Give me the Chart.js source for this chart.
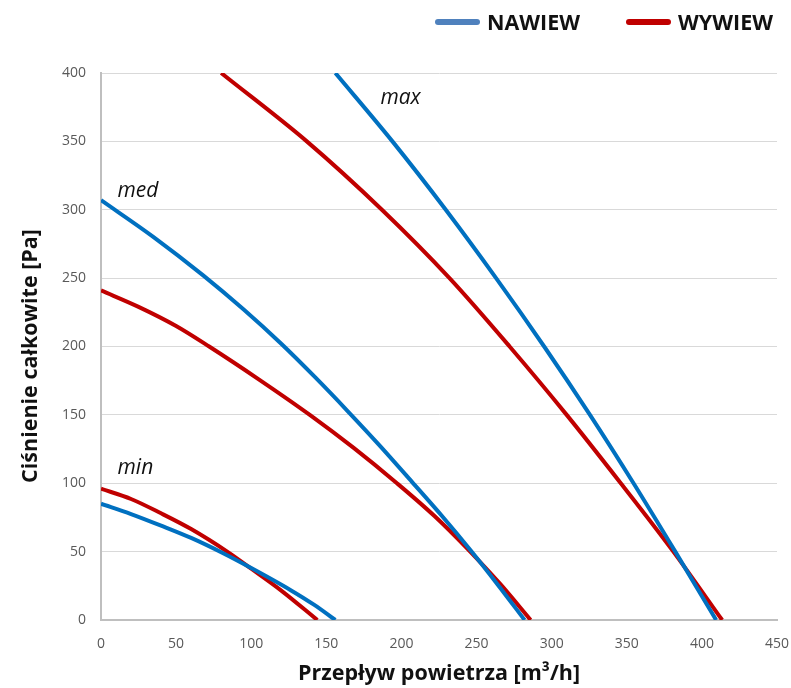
<!DOCTYPE html>
<html lang="pl">
<head>
<meta charset="UTF-8">
<title>Charakterystyka wentylatora</title>
<script src="https://cdn.jsdelivr.net/npm/chart.js"></script>
<style>
    body { margin: 0; background: #fff; }
    #wrap { position: relative; width: 791px; height: 688px; }
    #legend { position: absolute; top: 7px; left: 435px; display: flex; align-items: center;
              font: bold 21.5px 'Open Sans', sans-serif; color: #111; }
    .item { display: flex; align-items: center; margin-right: 46px; }
    .swatch { width: 45px; height: 6px; border-radius: 3px; margin-right: 7px; }
</style>
</head>
<body>
<div id="wrap">
    <canvas id="fanChart" width="791" height="688"></canvas>
    <div id="legend"></div>
</div>

<script>
    // series names and speed steps
    const seriesNames = ['NAWIEW', 'WYWIEW'];
    const speedNames = ['min', 'med', 'max'];

    // NAWIEW curves: flow [m3/h] / total pressure [Pa]
    const nawiewMinFlow = [0, 20, 40, 60, 81, 100, 126, 142, 156];
    const nawiewMinPa   = [85, 77.5, 69, 60, 49, 38, 22, 11, 0];
    const nawiewMedFlow = [0, 35, 68, 95, 120, 143, 164, 186, 207, 227, 246, 264, 282];
    const nawiewMedPa   = [307, 280, 252, 227, 202, 177, 153, 127, 101, 76, 51, 26, 0];
    const nawiewMaxFlow = [156, 194, 229.5, 263, 295, 325.5, 354.5, 382.3, 409.5];
    const nawiewMaxPa   = [400, 350, 300, 250, 200, 150, 100, 50, 0];

    // WYWIEW curves
    const wywiewMinFlow = [0, 20, 40, 60, 84, 100, 120, 144];
    const wywiewMinPa   = [96, 88.5, 78, 66.5, 50, 37.5, 21.5, 0];
    const wywiewMedFlow = [0, 25, 50, 72, 105, 139, 168, 197, 222, 244, 266, 286];
    const wywiewMedPa   = [241, 229, 215, 200, 176, 150, 126, 100, 76, 52, 26, 0];
    const wywiewMaxFlow = [80, 137, 187, 232, 272, 310, 346, 381, 413.5];
    const wywiewMaxPa   = [400, 350, 300, 250, 200, 150, 100, 50, 0];

    // axis ticks
    const flowTicks = [0, 50, 100, 150, 200, 250, 300, 350, 400, 450];
    const pressureTicks = [0, 50, 100, 150, 200, 250, 300, 350, 400];

    const lineColors = ['#0070c0', '#c00000'];
    const legendColors = ['#4f81bd', '#c00000'];

    function toPoints(xs, ys) {
        return xs.map((x, i) => ({ x: x, y: ys[i] }));
    }

    const curves = [
        [toPoints(nawiewMinFlow, nawiewMinPa), toPoints(nawiewMedFlow, nawiewMedPa), toPoints(nawiewMaxFlow, nawiewMaxPa)],
        [toPoints(wywiewMinFlow, wywiewMinPa), toPoints(wywiewMedFlow, wywiewMedPa), toPoints(wywiewMaxFlow, wywiewMaxPa)]
    ];

    const datasets = [];
    curves.forEach((set, s) => {
        set.forEach((pts, k) => {
            datasets.push({
                label: seriesNames[s] + ' ' + speedNames[k],
                data: pts,
                showLine: true,
                borderColor: lineColors[s],
                backgroundColor: lineColors[s],
                borderWidth: 4,
                pointRadius: 0,
                cubicInterpolationMode: 'monotone'
            });
        });
    });

    // html legend, one entry per series
    const legendEl = document.getElementById('legend');
    seriesNames.forEach((name, i) => {
        const item = document.createElement('div');
        item.className = 'item';
        item.innerHTML = '<span class="swatch" style="background:' + legendColors[i] + '"></span><span>' + name + '</span>';
        legendEl.appendChild(item);
    });

    // italic speed labels (min / med / max) placed in data coordinates
    const speedLabelPlugin = {
        id: 'speedLabels',
        afterDatasetsDraw(chart) {
            const { ctx, scales } = chart;
            const anchors = { max: [186, 382], med: [11, 314], min: [11, 111] };
            ctx.save();
            ctx.font = 'italic 21px "Open Sans", sans-serif';
            ctx.fillStyle = '#111';
            ctx.textAlign = 'left';
            ctx.textBaseline = 'middle';
            speedNames.forEach(name => {
                const a = anchors[name];
                ctx.fillText(name, scales.x.getPixelForValue(a[0]), scales.y.getPixelForValue(a[1]));
            });
            ctx.restore();
        }
    };

    // y axis title, drawn a bit below the plot centre like in the original
    const yTitlePlugin = {
        id: 'yTitle',
        afterDraw(chart) {
            const ctx = chart.ctx;
            ctx.save();
            ctx.translate(31, 356);
            ctx.rotate(-Math.PI / 2);
            ctx.font = 'bold 21.5px "Open Sans", sans-serif';
            ctx.fillStyle = '#111';
            ctx.textAlign = 'center';
            ctx.textBaseline = 'middle';
            ctx.fillText('Ciśnienie całkowite [Pa]', 0, 0);
            ctx.restore();
        }
    };

    const ctx = document.getElementById('fanChart').getContext('2d');
    new Chart(ctx, {
        type: 'scatter',
        data: { datasets: datasets },
        options: {
            responsive: false,
            animation: false,
            layout: { padding: { top: 73, right: 14, left: 0, bottom: 0 } },
            plugins: {
                legend: { display: false },
                tooltip: { enabled: false }
            },
            scales: {
                x: {
                    type: 'linear',
                    min: flowTicks[0],
                    max: flowTicks[flowTicks.length - 1],
                    afterBuildTicks: scale => { scale.ticks = flowTicks.map(v => ({ value: v })); },
                    afterFit: scale => {
                        scale.height = 68;
                        // let the last tick label hang over the right margin
                        scale.paddingLeft = 0;
                        scale.paddingRight = 0;
                    },
                    ticks: {
                        color: '#595959',
                        padding: 16,
                        font: { family: 'Open Sans', size: 14 }
                    },
                    grid: { display: false, drawTicks: false },
                    border: { color: '#bfbfbf', width: 2 },
                    title: {
                        display: true,
                        text: 'Przepływ powietrza [m³/h]',
                        color: '#111',
                        font: { family: 'Open Sans', size: 21.5, weight: 'bold' },
                        padding: { top: 0, bottom: 1 }
                    }
                },
                y: {
                    type: 'linear',
                    min: pressureTicks[0],
                    max: pressureTicks[pressureTicks.length - 1],
                    afterBuildTicks: scale => { scale.ticks = pressureTicks.map(v => ({ value: v })); },
                    afterFit: scale => { scale.width = 101; },
                    ticks: {
                        color: '#595959',
                        padding: 15,
                        font: { family: 'Open Sans', size: 14 }
                    },
                    grid: { color: '#d9d9d9', drawTicks: false },
                    border: { color: '#bfbfbf', width: 2 }
                }
            }
        },
        plugins: [speedLabelPlugin, yTitlePlugin]
    });
</script>
</body>
</html>
